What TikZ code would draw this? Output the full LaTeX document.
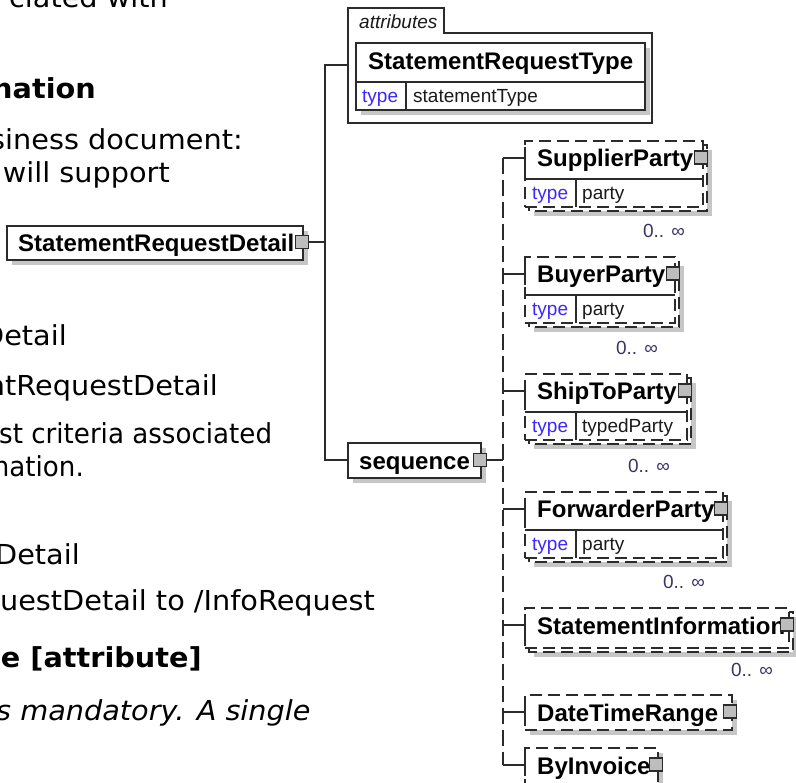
\documentclass[tikz,border=0pt]{standalone}
\usepackage{fontspec}
\setmainfont[FakeStretch=1.045]{DejaVu Sans}
\newfontfamily\bodyc[FakeStretch=0.95]{DejaVu Sans}
\newfontfamily\xs{Liberation Sans}
\definecolor{lc}{HTML}{2B2B2B}
\definecolor{shc}{HTML}{C6C6C6}
\definecolor{sqc}{HTML}{BDBDBD}
\definecolor{tc}{HTML}{3C28FF}
\definecolor{vc}{HTML}{1A1A1A}
\definecolor{oc}{HTML}{3A3466}
\newcommand\xchild[7]{%
 \pgfmathsetmacro\cw{#3-525}%
 \if s#7%
   \fill[shc] (534,{#2+9}) rectangle ({#3+9},{#2+#4+9});%
   \draw[dline,fill=white] (529,{#2+4}) rectangle ({#3+4},{#2+#4+4});%
 \else
   \fill[shc] (530,{#2+5}) rectangle ({#3+5},{#2+#4+5});%
 \fi
 \node[dbox, minimum width=\cw pt, minimum height=#4 pt] (#1) at (525,#2) {};%
 \draw[conn] (525,{#2+6}) -- (525,{#2+28});%
 \node[ename] (#1-t) at (537,{#2+26}) {#5};%
 \if\relax\detokenize{#6}\relax\else
   \draw[conn] (525,{#2+38}) -- (#3,{#2+38});%
   \draw[conn] (576,{#2+38}) -- (576,{#2+#4});%
   \node[tkey] (#1-k) at (532,{#2+59}) {type};%
   \node[tval] (#1-v) at (582,{#2+59}) {#6};%
 \fi
 \node[sq] (#1-sq) at ({#3-2},{#2+16.5}) {};%
 \coordinate (#1-c) at (525,{#2+17});%
 \draw[conn] (tTop |- #1-c) -- (#1-c);%
}
\begin{document}
\begin{tikzpicture}[x=1pt,y=-1pt,
 conn/.style={draw=lc, line width=1.5pt},
 trunk/.style={conn, dash pattern=on 16pt off 6pt},
 dline/.style={draw=lc, line width=1.5pt, dash pattern=on 12pt off 6pt},
 sbox/.style={draw=lc, line width=1.5pt, fill=white, rectangle, inner sep=0pt, outer sep=0pt, anchor=north west},
 dbox/.style={sbox, dash pattern=on 12pt off 6pt},
 sq/.style={draw=lc, line width=1.3pt, fill=sqc, rectangle, minimum width=13pt, minimum height=13pt, inner sep=0pt, outer sep=0pt},
 ename/.style={font=\xs\bfseries\fontsize{24}{28}\selectfont, inner sep=0pt, anchor=base west},
 tkey/.style={font=\xs\fontsize{19}{22}\selectfont, text=tc, inner sep=0pt, anchor=base west},
 tval/.style={font=\xs\fontsize{19}{22}\selectfont, text=vc, inner sep=0pt, anchor=base west},
 occ/.style={font=\xs\fontsize{19}{22}\selectfont, text=oc, inner sep=0pt, anchor=base east},
 body/.style={font=\fontsize{27.5}{33}\selectfont, inner sep=0pt, anchor=base east},
 bodyn/.style={body, font=\bodyc\fontsize{27.5}{33}\selectfont},
 bodyb/.style={body, font=\bfseries\fontsize{27.5}{33}\selectfont},
 bodyi/.style={body, font=\itshape\fontsize{27.5}{33}\selectfont},
]
\useasboundingbox (0,0) rectangle (796,783);
\clip (0,0) rectangle (796,783);

% background document text (cut off at left)
\node[body]  (b1)  at (168,8)   {ciated with};
\node[bodyb] (b2)  at (96,99)   {nation};
\node[body]  (b3)  at (243,150) {siness document:};
\node[body]  (b4)  at (170,183) {will support};
\node[body]  (b5)  at (67,346)  {Detail};
\node[body]  (b6)  at (218,396) {ntRequestDetail};
\node[bodyn, anchor=base west] (b7) at (-1,444) {st criteria associated};
\node[bodyn] (b8)  at (84,477)  {nation.};
\node[body]  (b9)  at (80,565)  {Detail};
\node[body]  (b10) at (375,611) {uestDetail to /InfoRequest};
\node[bodyb] (b11) at (202,667) {e [attribute]};
\node[bodyi, anchor=base west] (b12) at (-4,720) {s mandatory. A single};

% root element
\fill[shc] (12,231) rectangle (308,265);
\node[sbox, minimum width=296pt, minimum height=34pt] (srd) at (7,226) {};
\node[ename] (srd-t) at (18,251.5) {StatementRequestDetail};
\node[sq] (srd-sq) at (302,242) {};

% attributes group
\node[inner sep=0pt, outer sep=0pt, minimum width=304pt, minimum height=90pt, anchor=north west] (attr) at (348,33) {};
\draw[draw=lc, line width=1.3pt] (348,123) -- (348,8) -- (444,8) -- (444,33) -- (652,33) -- (652,123) -- cycle;
\node[font=\xs\itshape\fontsize{19}{22}\selectfont, text=vc, inner sep=0pt, anchor=base west] (attr-t) at (359,29) {attributes};
\fill[shc] (361,48) rectangle (650,115);
\node[sbox, minimum width=289pt, minimum height=67pt] (srt) at (356,43) {};
\draw[conn] (356,82) -- (645,82);
\draw[conn] (406,82) -- (406,110);
\node[ename] (srt-t) at (368,70) {StatementRequestType};
\node[tkey] (srt-k) at (362,103) {type};
\node[tval] (srt-v) at (413,103) {statementType};

% sequence
\fill[shc] (353,448) rectangle (486,483);
\node[sbox, minimum width=133pt, minimum height=35pt] (seq) at (348,443) {};
\node[ename] (seq-t) at (359,470) {sequence};
\node[sq] (seq-sq) at (480,460) {};

% root connectors
\coordinate (tA) at (325,65);
\coordinate (tS) at (325,460);
\draw[conn] (srd-sq.east) -- (srd-sq.east -| tA);
\draw[conn] (attr.west |- tA) -- (tA) -- (tS) -- (tS -| seq.west);

% sequence trunk
\coordinate (tTop) at (503,158);
\coordinate (tBot) at (503,765);
\draw[conn] (seq-sq.east) -- (seq-sq.east -| tTop);
\draw[trunk] (tTop) -- (tBot);

% children
\xchild{sup}{141}{703}{66}{SupplierParty}{party}{s}
\xchild{buy}{257}{675}{66}{BuyerParty}{party}{s}
\xchild{shp}{374}{687}{66}{ShipToParty}{typedParty}{s}
\xchild{fwd}{492}{723}{66}{ForwarderParty}{party}{s}
\xchild{sti}{608}{789}{40}{StatementInformation}{}{s}
\xchild{dtr}{695}{732}{35}{DateTimeRange}{}{n}
\xchild{byi}{748}{658}{45}{ByInvoice}{}{n}

% occurrences
\node[occ] (sup-o) at (685,238) {0.. ∞};
\node[occ] (buy-o) at (658,355) {0.. ∞};
\node[occ] (shp-o) at (670,473) {0.. ∞};
\node[occ] (fwd-o) at (705,589) {0.. ∞};
\node[occ] (sti-o) at (773,676) {0.. ∞};
\end{tikzpicture}
\end{document}
